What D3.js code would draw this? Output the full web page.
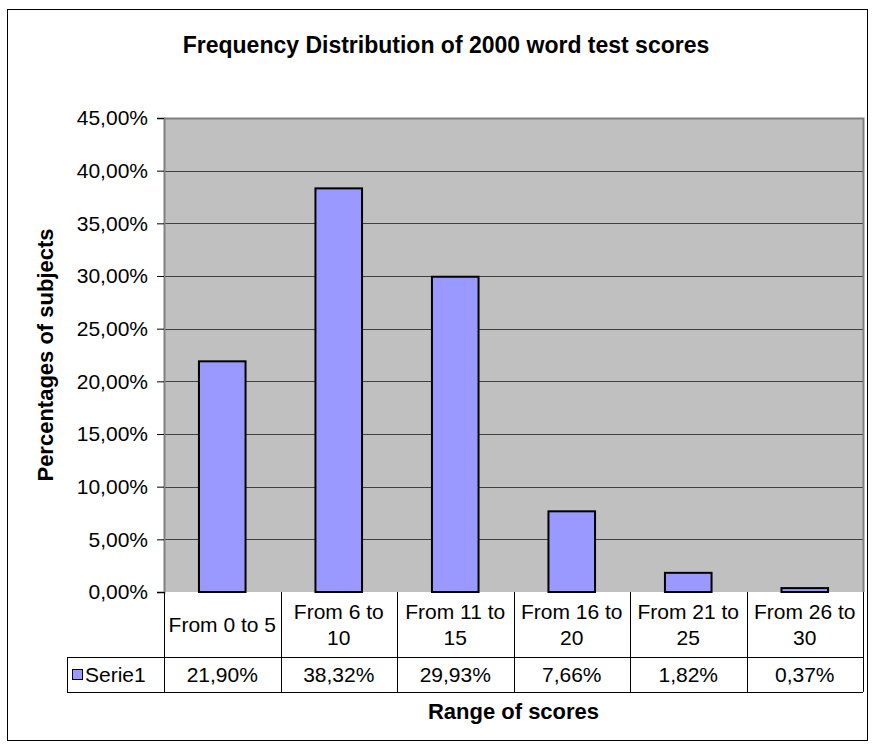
<!DOCTYPE html>
<html>
<head>
<meta charset="utf-8">
<script src="https://cdn.jsdelivr.net/npm/d3@7"></script>
<style>
  html, body { margin: 0; padding: 0; background: #ffffff; }
  svg { display: block; font-family: "Liberation Sans", Arial, sans-serif; }
</style>
</head>
<body>
<svg id="chart" width="874" height="744"></svg>
<script>
// ---- Data ----
const categories = [["From 0 to 5"], ["From 6 to", "10"], ["From 11 to", "15"], ["From 16 to", "20"], ["From 21 to", "25"], ["From 26 to", "30"]];
const values = [21.90, 38.32, 29.93, 7.66, 1.82, 0.37];
const valueLabels = ["21,90%", "38,32%", "29,93%", "7,66%", "1,82%", "0,37%"];
const yTicks = [0, 5, 10, 15, 20, 25, 30, 35, 40, 45];
const seriesName = "Serie1";
const titleText = "Frequency Distribution of 2000 word test scores";
const xTitle = "Range of scores";
const yTitle = "Percentages of subjects";

// ---- Layout ----
const svg = d3.select("#chart");
const plot = { left: 164, right: 863, top: 118, bottom: 592 };
const row1Bottom = 657, row2Bottom = 692, legendLeft = 67;
const fs = 21;

// outer border
svg.append("rect").attr("x", 7.5).attr("y", 9.5).attr("width", 860).attr("height", 731)
  .attr("fill", "#fff").attr("stroke", "#000").attr("stroke-width", 1);

const x = d3.scaleBand().domain(d3.range(categories.length)).range([plot.left, plot.right]).paddingInner(0).paddingOuter(0);
const y = d3.scaleLinear().domain([0, 45]).range([plot.bottom, plot.top]);
const barW = x.bandwidth() * 0.4;

// plot background
svg.append("rect").attr("x", plot.left).attr("y", plot.top)
  .attr("width", plot.right - plot.left).attr("height", plot.bottom - plot.top)
  .attr("fill", "#c0c0c0");

// gridlines
svg.append("g").selectAll("line").data(yTicks.filter(d => d > 0 && d < 45)).join("line")
  .attr("x1", plot.left).attr("x2", plot.right)
  .attr("y1", d => Math.round(y(d)) + 0.5).attr("y2", d => Math.round(y(d)) + 0.5)
  .attr("stroke", "#404040").attr("stroke-width", 1);

// plot border (gray)
svg.append("path")
  .attr("d", `M${plot.left},${plot.top + 0.5}H${plot.right + 0.5}V${plot.bottom}`)
  .attr("fill", "none").attr("stroke", "#808080").attr("stroke-width", 2);

// bars
svg.append("g").selectAll("rect").data(values).join("rect")
  .attr("x", (d, i) => x(i) + x.bandwidth() / 2 - barW / 2)
  .attr("width", barW)
  .attr("y", d => y(d))
  .attr("height", d => y(0) - y(d))
  .attr("fill", "#9999ff").attr("stroke", "#000").attr("stroke-width", 2);

// y axis
const yAxis = d3.axisLeft(y).tickValues(yTicks).tickSize(7).tickPadding(9)
  .tickFormat(d => d3.format(".2f")(d).replace(".", ",") + "%");
const ya = svg.append("g").attr("transform", `translate(${plot.left},0)`).call(yAxis);
ya.select(".domain").attr("stroke", "#808080").attr("stroke-width", 2);
ya.selectAll(".tick line").attr("stroke", "#000");
ya.selectAll(".tick text").attr("font-size", fs).attr("font-family", "Liberation Sans, Arial, sans-serif").attr("fill", "#000");

// data table
const tg = svg.append("g").attr("stroke", "#000").attr("stroke-width", 1).attr("fill", "none");
x.domain().forEach(i => {
  const xv = Math.round(x(i)) + 0.5;
  tg.append("line").attr("x1", xv).attr("x2", xv).attr("y1", plot.bottom).attr("y2", row2Bottom);
});
tg.append("line").attr("x1", plot.right + 0.5).attr("x2", plot.right + 0.5).attr("y1", plot.bottom).attr("y2", row2Bottom);
tg.append("line").attr("x1", legendLeft).attr("x2", plot.right).attr("y1", row1Bottom + 0.5).attr("y2", row1Bottom + 0.5);
tg.append("line").attr("x1", legendLeft).attr("x2", plot.right).attr("y1", row2Bottom + 0.5).attr("y2", row2Bottom + 0.5);
tg.append("line").attr("x1", legendLeft + 0.5).attr("x2", legendLeft + 0.5).attr("y1", row1Bottom).attr("y2", row2Bottom);
tg.append("line").attr("x1", plot.left - 7).attr("x2", plot.left).attr("y1", plot.bottom + 0.5).attr("y2", plot.bottom + 0.5);

// category labels
const cg = svg.append("g").attr("font-size", fs).attr("text-anchor", "middle").attr("fill", "#000");
categories.forEach((lines, i) => {
  const cx = x(i) + x.bandwidth() / 2;
  const midY = (plot.bottom + row1Bottom) / 2;
  const lh = 26;
  const t = cg.append("text");
  lines.forEach((ln, k) => {
    t.append("tspan").attr("x", cx)
      .attr("y", midY + 7 + (k - (lines.length - 1) / 2) * lh)
      .text(ln);
  });
});

// value labels
svg.append("g").attr("font-size", fs).attr("text-anchor", "middle").selectAll("text")
  .data(valueLabels).join("text")
  .attr("x", (d, i) => x(i) + x.bandwidth() / 2)
  .attr("y", (row1Bottom + row2Bottom) / 2 + 7)
  .text(d => d);

// legend key
svg.append("rect").attr("x", 72.5).attr("y", 669.5).attr("width", 10).attr("height", 10)
  .attr("fill", "#9999ff").attr("stroke", "#000");
svg.append("text").attr("x", 85).attr("y", (row1Bottom + row2Bottom) / 2 + 7)
  .attr("font-size", fs).text(seriesName);

// titles
svg.append("text").attr("x", 446).attr("y", 53).attr("text-anchor", "middle")
  .attr("font-size", 23).attr("font-weight", "bold").text(titleText);
svg.append("text").attr("x", 513.5).attr("y", 719).attr("text-anchor", "middle")
  .attr("font-size", 22).attr("font-weight", "bold").text(xTitle);
svg.append("text").attr("transform", "translate(53,355) rotate(-90)").attr("text-anchor", "middle")
  .attr("font-size", 22).attr("font-weight", "bold").text(yTitle);
</script>
</body>
</html>
